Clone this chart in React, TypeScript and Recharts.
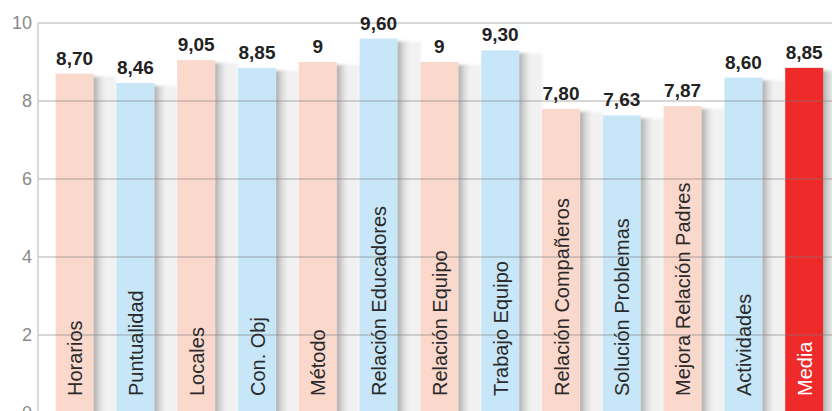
import React from 'react';
import { BarChart, Bar, XAxis, YAxis, ReferenceLine, LabelList, Cell } from 'recharts';

const categories = [
  'Horarios',
  'Puntualidad',
  'Locales',
  'Con. Obj',
  'Método',
  'Relación Educadores',
  'Relación Equipo',
  'Trabajo Equipo',
  'Relación Compañeros',
  'Solución Problemas',
  'Mejora Relación Padres',
  'Actividades',
  'Media',
];
const scores = [8.7, 8.46, 9.05, 8.85, 9, 9.6, 9, 9.3, 7.8, 7.63, 7.87, 8.6, 8.85];
const scoreLabels = ['8,70', '8,46', '9,05', '8,85', '9', '9,60', '9', '9,30', '7,80', '7,63', '7,87', '8,60', '8,85'];
const yTicks = [0, 2, 4, 6, 8, 10];

const PEACH = '#FAD8CC';
const BLUE = '#C7E6F7';
const RED = '#EE2B2A';

const data = categories.map((name, i) => ({ name, value: scores[i], label: scoreLabels[i] }));

const barColor = (i: number) => (i === categories.length - 1 ? RED : i % 2 === 0 ? PEACH : BLUE);

const ShadowBar = (props: any) => {
  const { x, y, width, height, fill } = props;
  return (
    <g>
      <rect x={x + width} y={y + 3} width={23} height={height + 10} fill="#f1f1f1" filter="url(#softBlur)" />
      <rect x={x + width - 1} y={y + 3} width={12} height={height + 10} fill="url(#barShadow)" filter="url(#softBlur)" />
      <rect x={x} y={y} width={width} height={height} fill={fill} />
    </g>
  );
};

const CategoryLabel = (props: any) => {
  const { x, width, value, index } = props;
  const cx = x + width / 2 + 7.5;
  const cy = 396;
  const isLast = index === categories.length - 1;
  return (
    <text
      x={cx}
      y={cy}
      transform={`rotate(-90 ${cx} ${cy})`}
      textAnchor="start"
      fill={isLast ? '#FFFFFF' : '#2A2A2A'}
      fontSize={20}
      fontFamily="'Liberation Sans', Arial, sans-serif"
    >
      {value}
    </text>
  );
};

const ValueLabel = (props: any) => {
  const { x, y, width, value } = props;
  return (
    <text
      x={x + width / 2}
      y={y - 9}
      textAnchor="middle"
      fill="#222"
      fontSize={19}
      fontWeight="bold"
      fontFamily="'Liberation Sans', Arial, sans-serif"
    >
      {value}
    </text>
  );
};

export default function App() {
  return (
    <div style={{ position: 'absolute', left: 0, top: 0, width: 832, height: 411, overflow: 'hidden', background: '#fff' }}>
      <BarChart width={835} height={413} data={data} margin={{ top: 23, right: 0, bottom: 0, left: 0 }} style={{ overflow: 'visible' }}>
        <defs>
          <linearGradient id="barShadow" x1="0" y1="0" x2="1" y2="0">
            <stop offset="0" stopColor="#a0a0a0" />
            <stop offset="0.5" stopColor="#d6d6d6" />
            <stop offset="1" stopColor="#f1f1f1" />
          </linearGradient>
          <filter id="softBlur" x="-20%" y="-20%" width="140%" height="140%">
            <feGaussianBlur stdDeviation="1.5" />
          </filter>
        </defs>
        <XAxis dataKey="name" hide padding={{ left: 6.6, right: 0 }} />
        <YAxis
          width={38}
          domain={[0, 10]}
          ticks={yTicks}
          interval={0}
          tickLine={false}
          axisLine={{ stroke: '#cccccc', strokeWidth: 1.5 }}
          tick={{ fill: '#8a8a8a', fontSize: 18, fontFamily: "'Liberation Sans', Arial, sans-serif" }}
          tickMargin={0}
        />
        <Bar dataKey="value" barSize={38} shape={ShadowBar} isAnimationActive={false}>
          {data.map((d, i) => (
            <Cell key={d.name} fill={barColor(i)} />
          ))}
          <LabelList dataKey="label" content={ValueLabel} />
          <LabelList dataKey="name" content={CategoryLabel} />
        </Bar>
        {yTicks.map((t) => (
          <ReferenceLine key={t} y={t} stroke="#7a7a7a" strokeOpacity={0.4} strokeWidth={1.5} />
        ))}
      </BarChart>
    </div>
  );
}
